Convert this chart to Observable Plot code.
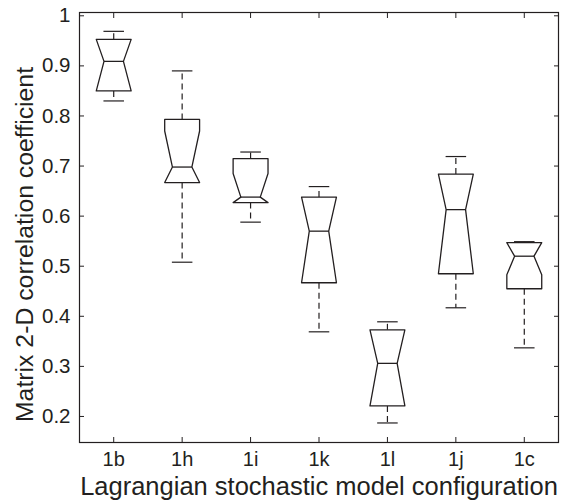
<!DOCTYPE html>
<html>
<head>
<meta charset="utf-8">
<script src="https://cdn.jsdelivr.net/npm/d3@7"></script>
<script src="https://cdn.jsdelivr.net/npm/@observablehq/plot@0.6"></script>
<style>
  html, body { margin: 0; padding: 0; background: #fff; }
  svg { font-family: "Liberation Sans", Arial, Helvetica, sans-serif; }
</style>
</head>
<body>
<div id="chart"></div>
<script>
// Categories (Lagrangian stochastic model configurations)
const categories = ["1b", "1h", "1i", "1k", "1l", "1j", "1c"];
// Box statistics
const whiskerLow  = [0.830, 0.508, 0.588, 0.369, 0.187, 0.417, 0.337];
const q1          = [0.850, 0.667, 0.627, 0.467, 0.221, 0.485, 0.455];
const notchLow    = [0.850, 0.667, 0.627, 0.467, 0.221, 0.485, 0.483];
const median      = [0.909, 0.698, 0.638, 0.570, 0.306, 0.613, 0.520];
const notchHigh   = [0.953, 0.770, 0.685, 0.638, 0.373, 0.684, 0.547];
const q3          = [0.953, 0.793, 0.715, 0.638, 0.373, 0.684, 0.547];
const whiskerHigh = [0.969, 0.890, 0.728, 0.659, 0.389, 0.719, 0.549];
const yTicks = [0.2, 0.3, 0.4, 0.5, 0.6, 0.7, 0.8, 0.9, 1];
const yTickLabels = ["0.2", "0.3", "0.4", "0.5", "0.6", "0.7", "0.8", "0.9", "1"];
const xTicks = [1, 2, 3, 4, 5, 6, 7];
const xLabel = "Lagrangian stochastic model configuration";
const yLabel = "Matrix 2-D correlation coefficient";

const BW = 0.255, NW = 0.142, CW = 0.15;
const ink = "#231f20";

const stats = categories.map((c, i) => ({
  cat: c, x: xTicks[i],
  wl: whiskerLow[i], q1: q1[i], nl: notchLow[i], med: median[i],
  nh: notchHigh[i], q3: q3[i], wh: whiskerHigh[i]
}));

// notched box outline polygons
const outline = stats.flatMap(s => [
  [s.x - BW, s.q3], [s.x + BW, s.q3], [s.x + BW, s.nh], [s.x + NW, s.med],
  [s.x + BW, s.nl], [s.x + BW, s.q1], [s.x - BW, s.q1], [s.x - BW, s.nl],
  [s.x - NW, s.med], [s.x - BW, s.nh], [s.x - BW, s.q3]
].map(([x, y]) => ({cat: s.cat, x, y})));

const blank = () => "";

const chart = Plot.plot({
  width: 565,
  height: 502,
  marginLeft: 79,
  marginRight: 7,
  marginTop: 12,
  marginBottom: 60,
  style: {fontFamily: '"Liberation Sans", Arial, sans-serif', color: ink, background: "#fff", overflow: "visible"},
  x: {domain: [0.5, 7.5]},
  y: {domain: [0.148, 1.0066]},
  marks: [
    Plot.frame({stroke: ink, strokeWidth: 1.2}),
    // inward ticks on all four sides
    Plot.axisY(yTicks, {anchor: "left", tickSize: -5, tickFormat: blank, label: null, stroke: ink}),
    Plot.axisY(yTicks, {anchor: "right", tickSize: -5, tickFormat: blank, label: null, stroke: ink}),
    Plot.axisX(xTicks, {anchor: "bottom", tickSize: -5, tickFormat: blank, label: null, stroke: ink}),
    Plot.axisX(xTicks, {anchor: "top", tickSize: -5, tickFormat: blank, label: null, stroke: ink}),
    // tick labels
    Plot.text(yTicks, {y: d => d, frameAnchor: "left", textAnchor: "end", dx: -9, fontSize: 20.5, fill: ink,
      text: (d, i) => yTickLabels[i]}),
    Plot.text(xTicks, {x: d => d, frameAnchor: "bottom", lineAnchor: "bottom", dy: 23, fontSize: 20, fill: ink,
      text: (d, i) => categories[i]}),
    // whiskers (dashed)
    Plot.link(stats, {x1: "x", x2: "x", y1: "q3", y2: "wh", stroke: ink, strokeWidth: 1.2, strokeDasharray: "6,4"}),
    Plot.link(stats, {x1: "x", x2: "x", y1: "q1", y2: "wl", stroke: ink, strokeWidth: 1.2, strokeDasharray: "6,4"}),
    // whisker caps
    Plot.link(stats, {x1: d => d.x - CW, x2: d => d.x + CW, y1: "wh", y2: "wh", stroke: ink, strokeWidth: 1.2}),
    Plot.link(stats, {x1: d => d.x - CW, x2: d => d.x + CW, y1: "wl", y2: "wl", stroke: ink, strokeWidth: 1.2}),
    // notched boxes
    Plot.line(outline, {x: "x", y: "y", z: "cat", stroke: ink, strokeWidth: 1.3, fill: "white", curve: "linear"}),
    // median
    Plot.link(stats, {x1: d => d.x - NW, x2: d => d.x + NW, y1: "med", y2: "med", stroke: ink, strokeWidth: 1.3}),
    // axis titles
    Plot.text([xLabel], {frameAnchor: "bottom", dy: 52, fontSize: 25.5, fill: ink, text: d => d}),
    Plot.text([yLabel], {frameAnchor: "left", textAnchor: "middle", dx: -54, dy: 17, rotate: -90, fontSize: 24.8, fill: ink, text: d => d})
  ]
});
document.getElementById("chart").appendChild(chart);
</script>
</body>
</html>
